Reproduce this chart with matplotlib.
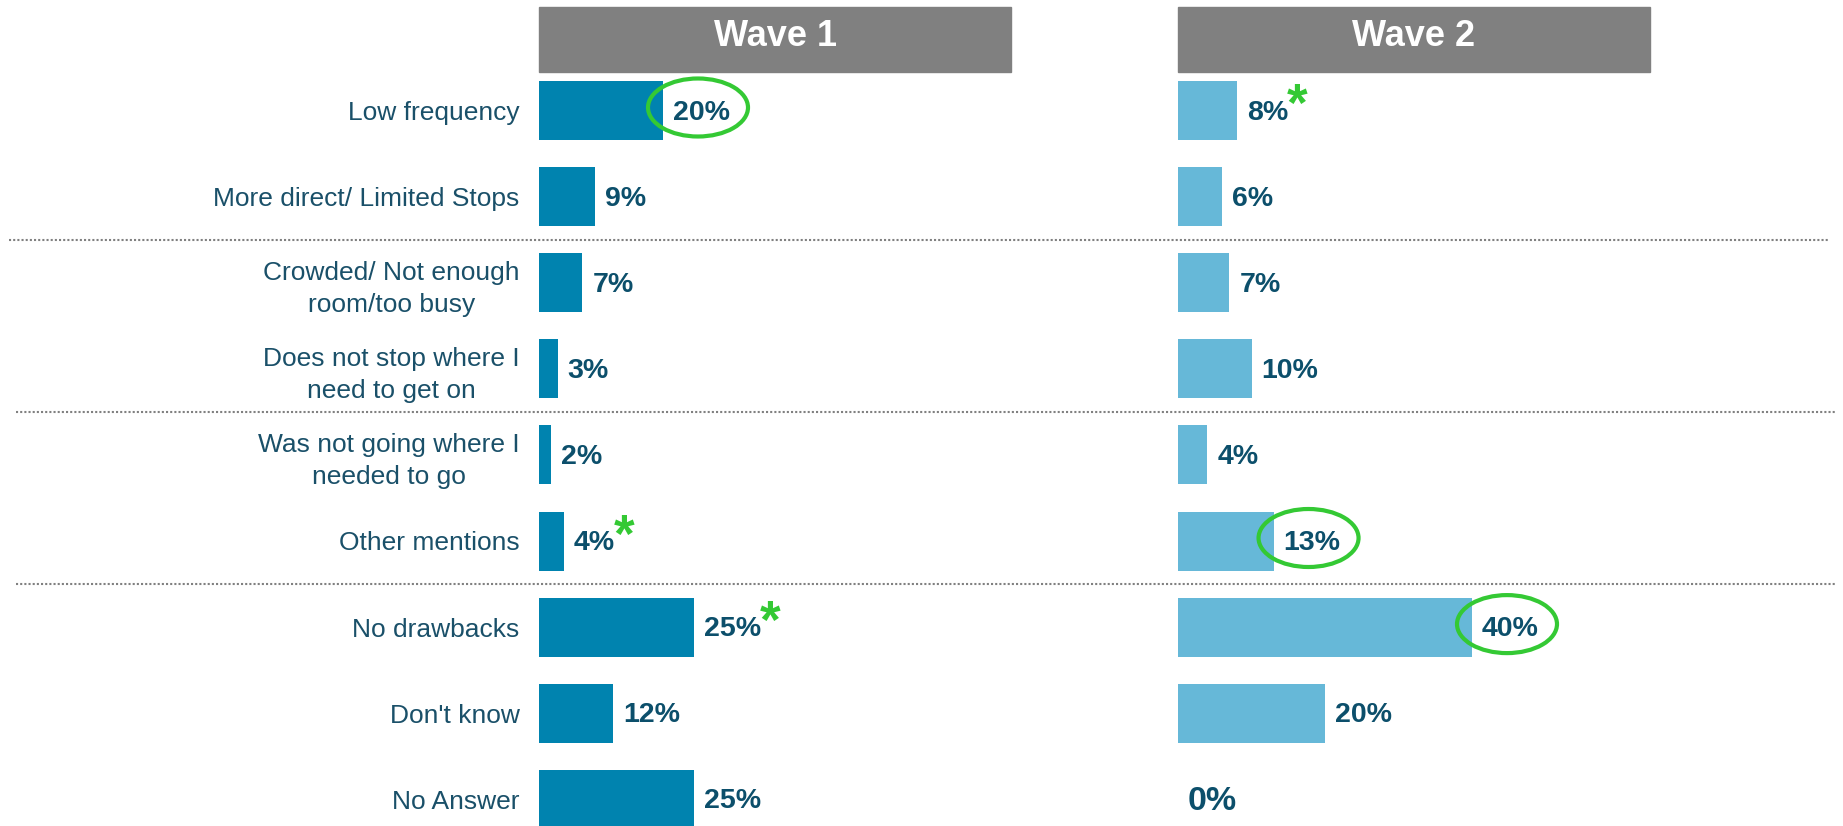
import numpy as np
import matplotlib
matplotlib.use('Agg')
import matplotlib.pyplot as plt
from matplotlib.patches import Rectangle, Ellipse

plt.rcParams['font.family'] = ['Liberation Sans', 'DejaVu Sans']

categories = ['Low frequency', 'More direct/ Limited Stops',
              'Crowded/ Not enough\nroom/too busy',
              'Does not stop where I\nneed to get on',
              'Was not going where I\nneeded to go',
              'Other mentions', 'No drawbacks', "Don't know", 'No Answer']
wave1 = [20, 9, 7, 3, 2, 4, 25, 12, 25]
wave2 = [8, 6, 7, 10, 4, 13, 40, 20, 0]
titles = ['Wave 1', 'Wave 2']
# which values get a green circle / a green asterisk
circled1 = [0]
circled2 = [5, 6]
starred1 = [5, 6]
starred2 = [0]
sep_after = [1, 3, 5]

bar_dark = '#0083AF'
bar_light = '#66B8D8'
txt_col = '#0C4F6B'
lab_col = '#1A5069'
green = '#34C934'
gray = '#808080'

W, H = 1843, 826
fig = plt.figure(figsize=(W / 100, H / 100), dpi=100)

row_px = 86.1
top_px = 110.5
ylim = ((H - top_px) / row_px, -top_px / row_px)

def make_panel(left_px, px_per_pct, vals, color, title, circled, starred, labels):
    ax = fig.add_axes([left_px / W, 0, 472 / W, 1])
    ax.set_xlim(0, 472 / px_per_pct)
    ax.set_ylim(*ylim)
    ax.set_frame_on(False)
    ax.set_xticks([])
    rows = np.arange(len(vals))
    ax.barh(rows, vals, height=59 / row_px, color=color, zorder=2)
    if labels:
        ax.set_yticks(rows, categories, fontsize=19, color=lab_col)
        ax.tick_params(axis='y', length=0, pad=14)
        for t in ax.get_yticklabels():
            t.set_multialignment('center')
            t.set_linespacing(1.4)
    else:
        ax.set_yticks([])

    # header box
    ax.add_patch(Rectangle((0, 1 - 72 / H), 1, 65 / H, transform=ax.transAxes,
                           color=gray, clip_on=False, zorder=1))
    ax.text(0.5, 1 - 46 / H, title, transform=ax.transAxes, ha='center',
            va='baseline', color='white', fontsize=26, fontweight='bold')

    for i, v in enumerate(vals):
        fs = 24.5 if v == 0 else 20.5
        t = ax.annotate(f'{v}%', xy=(v, i), xytext=(7.2, -1.5), textcoords='offset points',
                        va='center', ha='left', fontsize=fs, fontweight='bold',
                        color=txt_col, zorder=4)
        if i in starred:
            ax.annotate('*', xy=(1, 0.5), xycoords=t, xytext=(-1, 4),
                        textcoords='offset points', ha='left', va='center',
                        fontsize=38, fontweight='bold', color=green, zorder=4)
        if i in circled:
            cx = v + 35 / px_per_pct
            ax.add_patch(Ellipse((cx, i - 3 / row_px), 100 / px_per_pct, 58 / row_px,
                                 fill=False, edgecolor=green, linewidth=3, zorder=3))
    return ax

ax1 = make_panel(539, 6.2, wave1, bar_dark, titles[0], circled1, starred1, True)
ax2 = make_panel(1178, 7.35, wave2, bar_light, titles[1], circled2, starred2, False)

# dotted separators across the whole width
for k, s in enumerate(sep_after):
    x0 = 9 if k == 0 else 16
    x1 = 1828 if k == 0 else 1835
    ax1.axhline(s + 0.5, xmin=(x0 - 539) / 472, xmax=(x1 - 539) / 472,
                color=gray, linestyle=(0, (1, 1)), linewidth=1.5, clip_on=False, zorder=0)

fig.savefig('out.png', dpi=100)
